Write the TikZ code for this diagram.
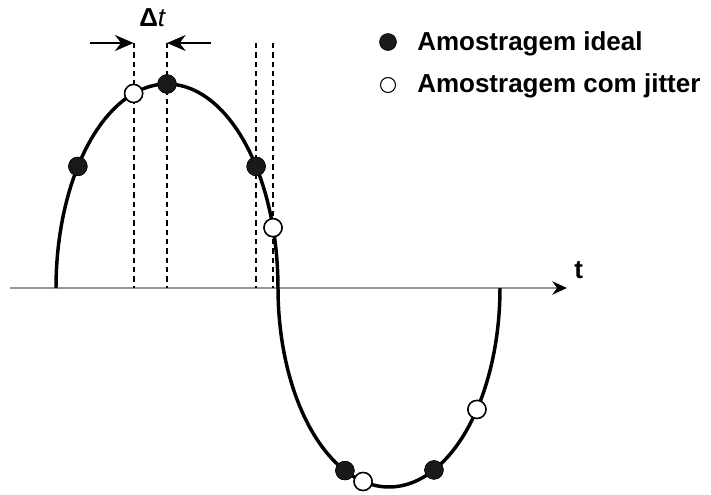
\documentclass[tikz,border=0pt]{standalone}
\usepackage{fontspec}
\setmainfont{Liberation Sans}
\usetikzlibrary{positioning,calc,arrows.meta}
\definecolor{axisgray}{RGB}{150,150,150}

\begin{document}
\begin{tikzpicture}[x=0.75pt,y=-0.75pt,font=\fontsize{19.5}{23}\selectfont\bfseries,
    ideal/.style={draw,circle,fill=black!90,inner sep=0pt,minimum size=14pt},
    jit/.style ={draw,circle,fill=white,line width=1.1pt,inner sep=0pt,minimum size=13.5pt},
    guide/.style={dash pattern=on 4pt off 3pt,line width=1.5pt},
    wave/.style={line width=2.6pt,line join=round},
    dt/.style={line width=1.1pt,-{Stealth[length=14pt,width=12pt]}},
    lbl/.style={anchor=base west,inner sep=0pt}]
  \useasboundingbox (0,0) rectangle (711,494);
  \coordinate (o) at (10,288);
  \coordinate (tip) at (567,288);
  \coordinate (top) at (0,43);
  % amostras ideais e com jitter
  \node[ideal] (i1) at ({167+111*cos(216.6)},{288+204*sin(216.6)}) {};
  \node[ideal] (i2) at ({167+111*cos(270)},{288+204*sin(270)}) {};
  \node[ideal] (i3) at ({167+111*cos(323.4)},{288+204*sin(323.4)}) {};
  \node[jit] (j1) at ({167+111*cos(252.5)},{288+204*sin(252.5)}) {};
  \node[jit] (j2) at ({167+111*cos(342.8)},{288+204*sin(342.8)}) {};
  \node[ideal] (i4) at ({389+111*cos(113.4)},{288+199*sin(113.4)}) {};
  \node[ideal] (i5) at ({389+111*cos(66.1)},{288+199*sin(66.1)}) {};
  \node[jit] (j3) at ({389+111*cos(103.5)},{288+199*sin(103.5)}) {};
  \node[jit] (j4) at ({389+111*cos(37.6)},{288+199*sin(37.6)}) {};
  % eixo do tempo
  \draw[axisgray,line width=1.3pt,-{Stealth[black,length=11pt,width=10pt]}] (o) -- (tip);
  \node[lbl] (tl) at (574,278) {t};
  % linhas de referencia
  \foreach \s in {j1,i2,i3,j2}
    \draw[guide] (\s |- top) -- (\s |- o);
  \draw[dt] ($(j1 |- top)+(-44,0)$) -- (j1 |- top);
  \draw[dt] ($(i2 |- top)+(44,0)$) -- (i2 |- top);
  \node[lbl] (dtl) at (139,26) {Δ\textit{\mdseries t}};
  % sinal
  \draw[wave] plot[domain=180:360,samples=90] ({167+111*cos(\x)},{288+204*sin(\x)})
    -- plot[domain=180:0,samples=90] ({389+111*cos(\x)},{288+199*sin(\x)});
  \foreach \s in {i1,i2,i3,i4,i5}
    \node[ideal] at (\s) {};
  \foreach \s in {j1,j2,j3,j4}
    \node[jit] at (\s) {};
  % legenda
  \node[ideal,minimum size=12.75pt] (li) at (388,42) {};
  \node[lbl] (lit) at (417,50) {Amostragem ideal};
  \node[jit,minimum size=11.25pt,line width=0.8pt] (lj) at (388,85) {};
  \node[lbl] (ljt) at (417,92) {Amostragem com jitter};
\end{tikzpicture}
\end{document}
